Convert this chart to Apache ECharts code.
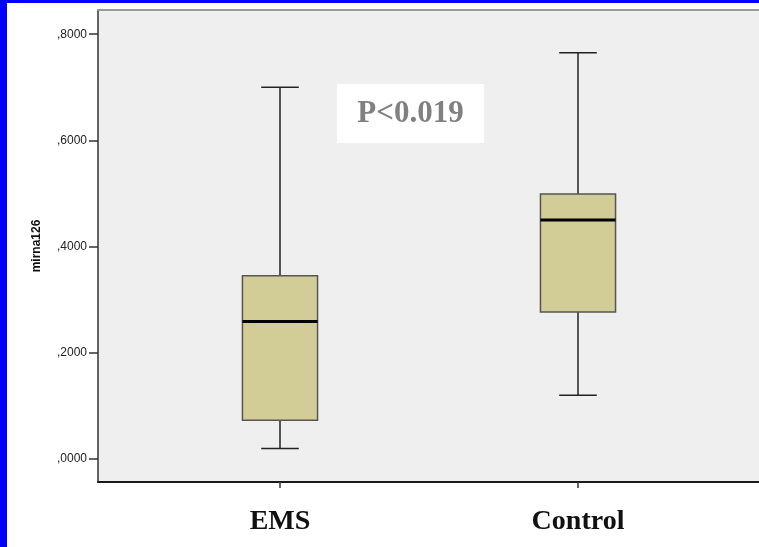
<!DOCTYPE html>
<html>
<head>
<meta charset="utf-8">
<script src="https://cdn.jsdelivr.net/npm/echarts@6/dist/echarts.min.js"></script>
<style>
html,body{margin:0;padding:0;background:#fff;}
#chart{width:759px;height:547px;}
</style>
</head>
<body>
<div id="chart"></div>
<script>
// ---- data ----
const categories = ['EMS', 'Control'];
const lowValues    = [0.020, 0.120];
const q1Values     = [0.073, 0.277];
const medianValues = [0.259, 0.450];
const q3Values     = [0.345, 0.499];
const highValues   = [0.700, 0.765];
const yTickValues  = [0, 0.2, 0.4, 0.6, 0.8];
const annotationText = 'P<0.019';
const yAxisName = 'mirna126';

const Y_MIN = -0.0433, Y_MAX = 0.8456;

const boxData = categories.map((c, i) => [i, lowValues[i], q1Values[i], medianValues[i], q3Values[i], highValues[i]]);

function renderBox(params, api) {
  const x = api.value(0);
  const pLow = api.coord([x, api.value(1)]);
  const pQ1 = api.coord([x, api.value(2)]);
  const pMed = api.coord([x, api.value(3)]);
  const pQ3 = api.coord([x, api.value(4)]);
  const pHigh = api.coord([x, api.value(5)]);
  const band = api.size([1, 0])[0];
  const bw = band * 0.252;
  const cw = bw / 2;
  const cx = pMed[0];
  const wStyle = { stroke: '#222', lineWidth: 1.5 };
  return {
    type: 'group',
    children: [
      { type: 'line', shape: { x1: cx, y1: pHigh[1], x2: cx, y2: pQ3[1] }, style: wStyle },
      { type: 'line', shape: { x1: cx, y1: pQ1[1], x2: cx, y2: pLow[1] }, style: wStyle },
      { type: 'line', shape: { x1: cx - cw / 2, y1: pHigh[1], x2: cx + cw / 2, y2: pHigh[1] }, style: wStyle },
      { type: 'line', shape: { x1: cx - cw / 2, y1: pLow[1], x2: cx + cw / 2, y2: pLow[1] }, style: wStyle },
      { type: 'rect', shape: { x: cx - bw / 2, y: pQ3[1], width: bw, height: pQ1[1] - pQ3[1] },
        style: { fill: '#d2cd96', stroke: '#555', lineWidth: 1.5 } },
      { type: 'line', shape: { x1: cx - bw / 2, y1: pMed[1], x2: cx + bw / 2, y2: pMed[1] },
        style: { stroke: '#000', lineWidth: 3 } }
    ]
  };
}

const chart = echarts.init(document.getElementById('chart'));
chart.setOption({
  animation: false,
  backgroundColor: '#fff',
  grid: [
    { left: 98, right: -2, top: 10, bottom: 65, show: true, backgroundColor: '#efefef', borderWidth: 0 },
    { left: 131, right: 32, top: 10, bottom: 65 }
  ],
  xAxis: [
    { type: 'value', gridIndex: 0, min: 0, max: 1, position: 'bottom',
      axisLine: { show: true, onZero: false, lineStyle: { color: '#1a1a1a', width: 2 } },
      axisTick: { show: false }, axisLabel: { show: false }, splitLine: { show: false } },
    { type: 'value', gridIndex: 0, min: 0, max: 1, position: 'top',
      axisLine: { show: true, onZero: false, lineStyle: { color: '#999', width: 2 } },
      axisTick: { show: false }, axisLabel: { show: false }, splitLine: { show: false } },
    { type: 'category', gridIndex: 1, data: categories, position: 'bottom',
      axisLine: { show: false, onZero: false },
      axisTick: { show: true, alignWithLabel: true, length: 6, lineStyle: { color: '#333', width: 1.5 } },
      axisLabel: { margin: 26, color: '#111', fontFamily: 'Liberation Serif', fontWeight: 'bold', fontSize: 28 } }
  ],
  yAxis: [
    { type: 'value', gridIndex: 0, min: Y_MIN, max: Y_MAX,
      name: yAxisName, nameLocation: 'middle', nameGap: 55, nameRotate: 90,
      nameTextStyle: { fontFamily: 'Liberation Sans', fontWeight: 'bold', fontSize: 12, color: '#111' },
      axisLine: { show: true, onZero: false, lineStyle: { color: '#333', width: 1.5 } },
      axisTick: { show: true, customValues: yTickValues, length: 9, lineStyle: { color: '#333', width: 1.5 } },
      axisLabel: { customValues: yTickValues, margin: 11, fontFamily: 'Liberation Sans', fontSize: 12, color: '#222',
        formatter: v => ',' + Math.abs(v).toFixed(4).split('.')[1] },
      splitLine: { show: false } },
    { type: 'value', gridIndex: 1, min: Y_MIN, max: Y_MAX, show: false, splitLine: { show: false } }
  ],
  graphic: [
    { type: 'rect', left: 0, top: 0, shape: { width: 7, height: 547 }, style: { fill: '#0000ff' }, z: 100 },
    { type: 'rect', left: 0, top: 0, shape: { width: 759, height: 3 }, style: { fill: '#0000ff' }, z: 100 },
    { type: 'group', left: 337, top: 84, z: 50, children: [
      { type: 'rect', shape: { width: 147, height: 59 }, style: { fill: '#fff' } },
      { type: 'text', x: 73.5, y: 30, style: { text: annotationText, fill: '#808080', font: 'bold 31px "Liberation Serif"', align: 'center', verticalAlign: 'middle' } }
    ] }
  ],
  series: [{
    type: 'custom',
    xAxisIndex: 2,
    yAxisIndex: 1,
    renderItem: renderBox,
    encode: { x: 0, y: [1, 2, 3, 4, 5] },
    data: boxData
  }]
});
</script>
</body>
</html>
